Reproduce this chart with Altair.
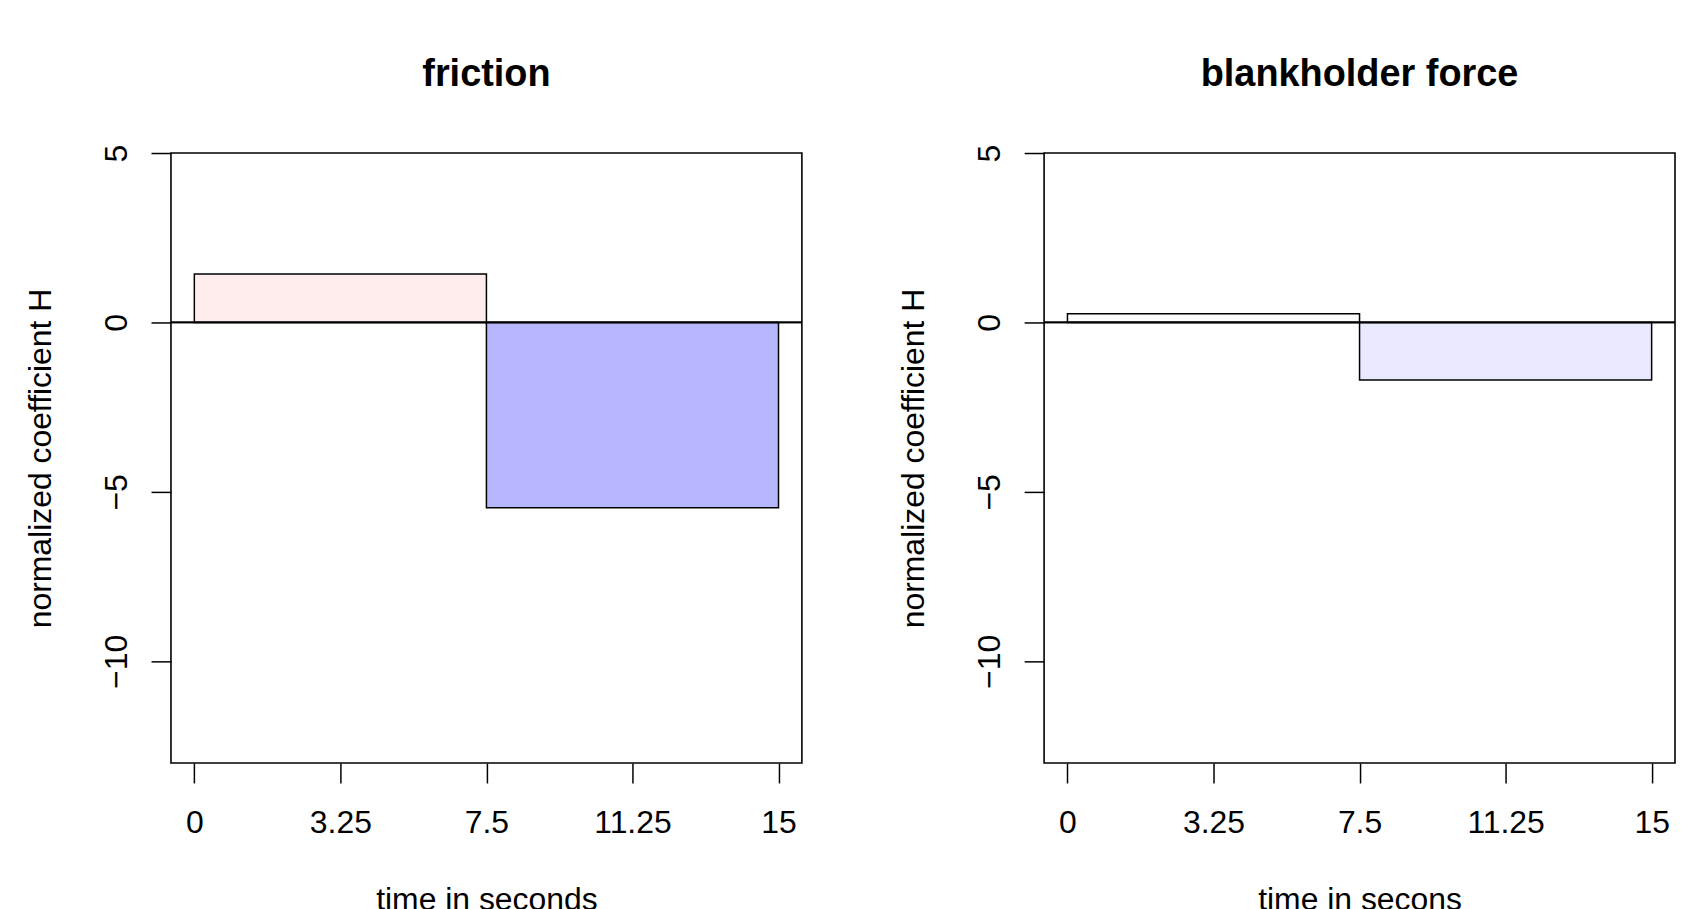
import altair as alt
import pandas as pd

# ---- data ----
time_start = [0.0, 7.5]
time_end = [7.5, 15.0]
friction_values = [1.43, -5.47]
blankholder_values = [0.26, -1.70]
friction_colors = ["#FFECEC", "#B6B6FF"]
blankholder_colors = ["#FFFCFC", "#E8E8FF"]

x_ticks = [0, 3.75, 7.5, 11.25, 15]
x_tick_labels = ["0", "3.25", "7.5", "11.25", "15"]
y_ticks = [-10, -5, 0, 5]

panel_titles = ["friction", "blankholder force"]
x_titles = ["time in seconds", "time in secons"]
y_title = "normalized coefficient H"

FONT = "Liberation Sans"
W, H = 633, 612

label_expr = " : ".join(
    f"datum.value == {v} ? '{l}'" for v, l in zip(x_ticks, x_tick_labels)
) + " : datum.label"


def panel(values, colors, title, xtitle):
    df = pd.DataFrame({"start": time_start, "end": time_end,
                       "value": values, "color": colors})
    xscale = alt.Scale(domain=[-0.6, 15.6], nice=False, zero=False)
    yscale = alt.Scale(domain=[-13.0, 5.0], nice=False, zero=False)
    xaxis = alt.Axis(values=x_ticks, labelExpr=label_expr, title=xtitle,
                     titleX=W / 2, titleY=147, titleBaseline="alphabetic",
                     titleAlign="center",
                     labelBaseline="alphabetic", labelPadding=50)
    yaxis = alt.Axis(values=y_ticks, title=y_title, labelAngle=270,
                     labelAlign="center", labelBaseline="alphabetic",
                     labelPadding=25, titleAngle=270, titleX=-121,
                     titleY=H / 2, titleAlign="center",
                     titleBaseline="alphabetic")
    bars = alt.Chart(df).mark_rect(stroke="black", strokeWidth=1.5).encode(
        x=alt.X("start:Q", scale=xscale, axis=xaxis),
        x2="end:Q",
        y=alt.Y("value:Q", scale=yscale, axis=yaxis),
        y2=alt.datum(0),
        color=alt.Color("color:N", scale=None),
    )
    zero = alt.Chart(df).mark_rule(color="black", strokeWidth=1.8).encode(
        y=alt.datum(0)
    )
    return alt.layer(bars, zero).properties(
        width=W, height=H,
        title=alt.TitleParams(title, frame="group", baseline="alphabetic",
                              offset=20, anchor="middle", fontSize=38,
                              fontWeight="bold", font=FONT, color="black"),
    )


left = panel(friction_values, friction_colors, panel_titles[0], x_titles[0])
right = panel(blankholder_values, blankholder_colors, panel_titles[1], x_titles[1])

chart = alt.hconcat(left, right, spacing=93).properties(
    padding={"left": 15.5, "top": 46, "right": 0, "bottom": 0},
    background="white",
).configure_view(
    stroke="black", strokeWidth=1.6
).configure_axis(
    domain=False, grid=False, ticks=True, tickColor="black", tickWidth=1.5,
    tickSize=20, labelFont=FONT, labelFontSize=32, labelColor="black",
    titleFont=FONT, titleFontSize=32, titleFontWeight="normal",
    titleColor="black", labelOverlap=False, labelFlush=False,
)

chart.save("out.html", embed_options={"renderer": "svg", "actions": False})
